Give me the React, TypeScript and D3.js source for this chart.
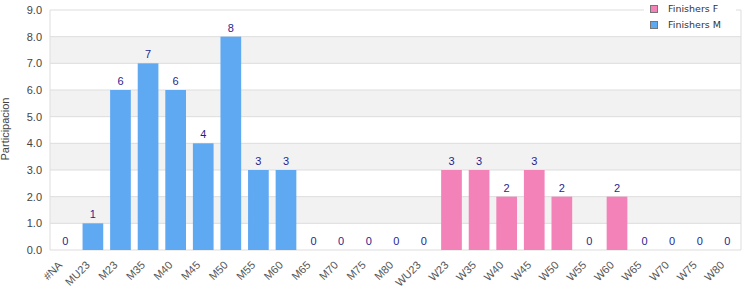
import React from "react";
import * as d3 from "d3";

const categories = ["#NA", "MU23", "M23", "M35", "M40", "M45", "M50", "M55", "M60", "M65", "M70", "M75", "M80", "WU23", "W23", "W35", "W40", "W45", "W50", "W55", "W60", "W65", "W70", "W75", "W80"];
// which series each category belongs to
const seriesOf = ["M", "M", "M", "M", "M", "M", "M", "M", "M", "M", "M", "M", "M", "F", "F", "F", "F", "F", "F", "F", "F", "F", "F", "F", "F"];
const values = [0, 1, 6, 7, 6, 4, 8, 3, 3, 0, 0, 0, 0, 0, 3, 3, 2, 3, 2, 0, 2, 0, 0, 0, 0];
const yTicks = [0, 1, 2, 3, 4, 5, 6, 7, 8, 9];
const legendItems = [
  { key: "F", label: "Finishers F" },
  { key: "M", label: "Finishers M" },
];

const colors: Record<string, string> = { M: "#5fa8f2", F: "#f282b8" };

const W = 750;
const H = 300;
const margin = { top: 10, right: 9, bottom: 50, left: 50 };

const App = () => {
  const innerW = W - margin.left - margin.right;
  const innerH = H - margin.top - margin.bottom;

  const x = d3.scaleBand().domain(categories).range([0, innerW]).paddingInner(0.25).paddingOuter(0.15).align(0.6);
  const y = d3.scaleLinear().domain([0, 9]).range([innerH, 0]);

  const font = "'Liberation Sans', Arial, sans-serif";

  return (
    <svg width={W} height={H} style={{ position: "absolute", left: 0, top: 0, background: "#fff" }}>
      <g transform={`translate(${margin.left},${margin.top})`}>
        {/* alternating bands */}
        {yTicks.slice(0, -1).filter((t) => t % 2 === 1).map((t) => (
          <rect key={"band" + t} x={0} y={y(t + 1)} width={innerW} height={y(t) - y(t + 1)} fill="#f2f2f2" />
        ))}
        {yTicks.map((t) => (
          <line key={"g" + t} x1={0} x2={innerW} y1={y(t)} y2={y(t)} stroke="#dddddd" strokeWidth={1} />
        ))}
        <line x1={0} x2={0} y1={0} y2={innerH} stroke="#dddddd" />
        <line x1={innerW} x2={innerW} y1={0} y2={innerH} stroke="#dddddd" />
        {yTicks.map((t) => (
          <text key={"yt" + t} x={-8} y={y(t)} dy="0.35em" textAnchor="end" fontFamily={font} fontSize={11} fill="#444">
            {t.toFixed(1)}
          </text>
        ))}

        {categories.map((c, i) => {
          const v = values[i];
          const bx = x(c)!;
          return (
            <g key={c}>
              {v > 0 && (
                <rect x={bx} y={y(v)} width={x.bandwidth()} height={innerH - y(v)} fill={colors[seriesOf[i]]} />
              )}
              <text x={bx + x.bandwidth() / 2} y={y(v) - 5} textAnchor="middle" fontFamily={font} fontSize={11} fill="#1f1f8f">
                {v}
              </text>
              <text
                transform={`translate(${bx + x.bandwidth() / 2 - 5},${innerH + 13}) rotate(-45)`}
                textAnchor="end"
                dy="0.35em"
                fontFamily={font}
                fontSize={11}
                fill="#555"
              >
                {c}
              </text>
            </g>
          );
        })}
      </g>

      <text transform={`translate(9,${margin.top + innerH / 2 - 1}) rotate(-90)`} textAnchor="middle" fontFamily={font} fontSize={11} fill="#444">
        Participacion
      </text>

      {/* legend */}
      <rect x={644} y={0} width={92} height={34} fill="#fff" />
      {legendItems.map((d, i) => (
        <g key={d.key} transform={`translate(650,${5 + i * 16})`}>
          <rect x={0.5} y={0.5} width={7} height={7} fill={colors[d.key]} stroke="#777" />
          <text x={18} y={4} dy="0.35em" fontFamily="'DejaVu Sans', sans-serif" fontSize={9.5} fill="#333">
            {d.label}
          </text>
        </g>
      ))}
    </svg>
  );
};

export default App;
